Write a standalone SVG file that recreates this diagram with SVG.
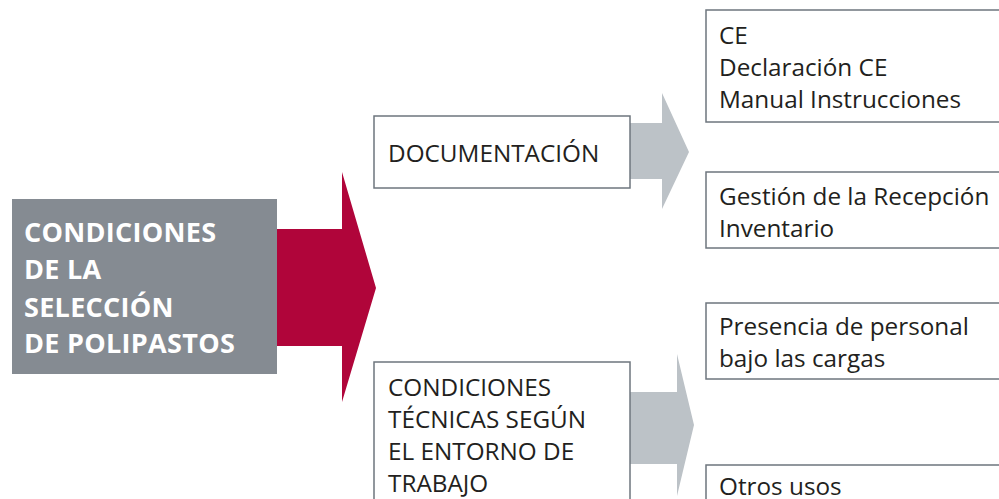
<svg xmlns="http://www.w3.org/2000/svg" width="999" height="499" viewBox="0 0 999 499">
<style>
.box{fill:#ffffff;stroke:#6e767e;stroke-width:1.5}
.t{font-family:"Open Sans","Noto Sans",sans-serif;font-size:24.3px;fill:#231f20}
.tb{font-family:"Open Sans","Noto Sans",sans-serif;font-size:27px;font-weight:bold;fill:#ffffff;letter-spacing:0.3px}
.red{fill:#b0053a}
.gr{fill:#bcc2c7}
</style>
<rect width="999" height="499" fill="#ffffff"/>
<g id="connectors">
<polygon class="red" points="277,229 342,229 342,172 376,288 342,402 342,346 277,346"/>
<polygon class="gr" points="630,123 662,123 662,93 689,152 662,209 662,179 630,179"/>
<polygon class="gr" points="630,392 677,392 677,354 694,425 677,496 677,464 630,464"/>
</g>
<g id="main">
<rect x="12" y="199" width="265" height="175" fill="#858b92"/>
<text class="tb"><tspan x="24" y="242">CONDICIONES</tspan><tspan x="24" y="279">DE LA</tspan><tspan x="24" y="317">SELECCIÓN</tspan><tspan x="24" y="353">DE POLIPASTOS</tspan></text>
</g>
<g id="documentacion">
<rect class="box" x="374" y="116" width="256" height="72"/>
<text class="t" x="388" y="162">DOCUMENTACIÓN</text>
</g>
<g id="condiciones-tecnicas">
<rect class="box" x="374" y="362" width="256" height="150"/>
<text class="t"><tspan x="388" y="396">CONDICIONES</tspan><tspan x="388" y="428">TÉCNICAS SEGÚN</tspan><tspan x="388" y="460">EL ENTORNO DE</tspan><tspan x="388" y="492">TRABAJO</tspan></text>
</g>
<g id="ce">
<rect class="box" x="706" y="10" width="320" height="112"/>
<text class="t"><tspan x="719" y="44">CE</tspan><tspan x="719" y="76">Declaración CE</tspan><tspan x="719" y="108">Manual Instrucciones</tspan></text>
</g>
<g id="gestion">
<rect class="box" x="706" y="172" width="320" height="76"/>
<text class="t"><tspan x="719" y="205">Gestión de la Recepción</tspan><tspan x="719" y="237">Inventario</tspan></text>
</g>
<g id="presencia">
<rect class="box" x="706" y="303" width="320" height="76"/>
<text class="t"><tspan x="719" y="335">Presencia de personal</tspan><tspan x="719" y="367">bajo las cargas</tspan></text>
</g>
<g id="otros">
<rect class="box" x="706" y="465" width="320" height="60"/>
<text class="t" x="719" y="495">Otros usos</text>
</g>
</svg>
